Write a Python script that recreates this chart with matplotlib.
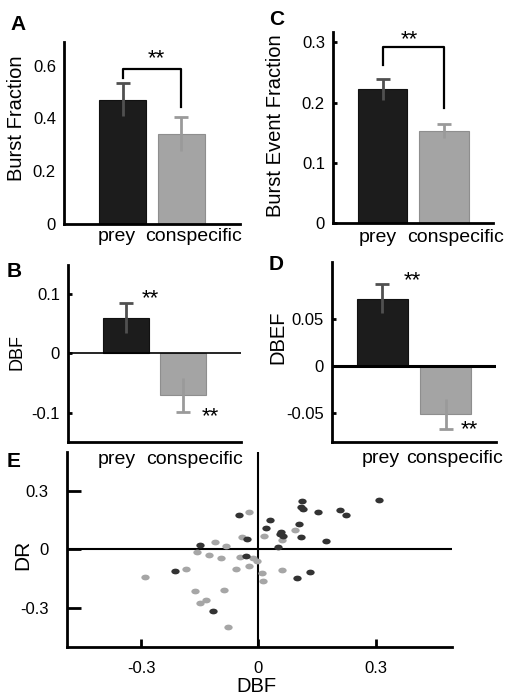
import numpy as np
import matplotlib
matplotlib.use('Agg')
import matplotlib.pyplot as plt
from matplotlib.path import Path
from matplotlib.transforms import Affine2D

plt.rcParams['font.family'] = ['Liberation Sans', 'DejaVu Sans']

# data
cats = ['prey', 'conspecific']
burst_frac = [0.47, 0.34]
burst_frac_err = [0.063, 0.065]
burst_event = [0.222, 0.153]
burst_event_err = [0.017, 0.011]
dbf = [0.060, -0.070]
dbf_err = [0.025, 0.028]
dbef = [0.071, -0.051]
dbef_err = [0.015, 0.016]

prey_dbf = [0.308, 0.111, 0.108, 0.114, 0.152, 0.208, 0.224, -0.049, 0.030, 0.019,
            0.103, 0.058, 0.054, 0.064, 0.109, 0.172, -0.030, -0.150, 0.050, -0.031,
            -0.212, 0.133, 0.099, -0.115]
prey_dr = [0.254, 0.247, 0.215, 0.205, 0.190, 0.200, 0.178, 0.175, 0.149, 0.112,
           0.131, 0.090, 0.080, 0.069, 0.063, 0.042, 0.053, 0.022, 0.014, -0.034,
           -0.110, -0.117, -0.146, -0.315]
consp_dbf = [-0.025, -0.042, -0.110, -0.082, 0.015, 0.093, 0.059, -0.156, -0.127, -0.095,
             -0.048, -0.013, -0.003, -0.023, -0.057, -0.185, 0.059, 0.010, 0.012, -0.290,
             -0.161, -0.089, -0.135, -0.150, -0.079]
consp_dr = [0.190, 0.066, 0.036, 0.019, 0.071, 0.098, 0.047, -0.014, -0.029, -0.041,
            -0.037, -0.042, -0.059, -0.083, -0.100, -0.100, -0.103, -0.119, -0.159, -0.142,
            -0.210, -0.208, -0.256, -0.273, -0.395]

bar_cols = ['#1c1c1c', '#a4a4a4']
edge_cols = ['#111111', '#8e8e8e']
err_cols = ['#505050', '#9a9a9a']
dark_dot = '#333333'
light_dot = '#a6a6a6'

fig = plt.figure(figsize=(5.12, 6.99), dpi=100)


def bar_panel(ax, vals, errs, xlim, ylim, ticklen=3):
    x = np.arange(1, len(vals) + 1)
    ax.bar(x, vals, width=0.8, color=bar_cols, edgecolor=edge_cols, lw=0.8, zorder=2)
    for xi, v, e, c in zip(x, vals, errs, err_cols):
        s = np.sign(v)
        ax.vlines(xi, v - e, v + e, color=c, lw=2, zorder=3)
        ax.plot([xi], [v + s * e], marker='_', ms=10, mew=2, color=c, zorder=3)
    ax.set_xlim(*xlim)
    ax.set_ylim(*ylim)
    ax.patch.set_alpha(0)
    for side in ['top', 'right']:
        ax.spines[side].set_visible(False)
    for side in ['left', 'bottom']:
        ax.spines[side].set_linewidth(2)
    ax.tick_params(axis='y', direction='in', length=ticklen, width=2, labelsize=12, pad=6)
    ax.tick_params(axis='x', length=0, labelsize=14)
    return x


# A
axA = fig.add_axes([0.1256, 0.6795, 0.343, 0.2608])
bar_panel(axA, burst_frac, burst_frac_err, (0, 3), (0, 0.69), ticklen=0)
axA.set_yticks([0, 0.2, 0.4, 0.6])
axA.set_yticklabels(['0', '0.2', '0.4', '0.6'])
axA.set_xticks([0.9, 2.21])
axA.set_xticklabels(cats)
axA.tick_params(axis='x', pad=3)
axA.plot([1, 1, 2, 2], [0.551, 0.585, 0.585, 0.442], color='k', lw=1.6, clip_on=False)
axA.text(1.58, 0.625, '**', ha='center', va='center', fontsize=16)
axA.set_ylabel('Burst Fraction', fontsize=14.5)
axA.yaxis.set_label_coords(-0.22, 0.58)

# C
axC = fig.add_axes([0.651, 0.681, 0.3125, 0.2737])
bar_panel(axC, burst_event, burst_event_err, (0.2, 2.8), (0, 0.318))
axC.set_yticks([0, 0.1, 0.2, 0.3])
axC.set_yticklabels(['0', '0.1', '0.2', '0.3'])
axC.set_xticks([0.92, 2.18])
axC.set_xticklabels(cats)
axC.tick_params(axis='x', pad=4)
axC.plot([1, 1, 2, 2], [0.263, 0.293, 0.293, 0.191], color='k', lw=1.6, clip_on=False)
axC.text(1.43, 0.305, '**', ha='center', va='center', fontsize=16, clip_on=False)
axC.set_ylabel('Burst Event Fraction', fontsize=14.5)
axC.yaxis.set_label_coords(-0.30, 0.51)

# B
axB = fig.add_axes([0.1334, 0.3672, 0.3367, 0.2536])
bar_panel(axB, dbf, dbf_err, (0, 3), (-0.149, 0.148))
axB.axhline(0, color='k', lw=1.2, zorder=4)
axB.set_yticks([-0.1, 0, 0.1])
axB.set_yticklabels(['-0.1', '0', '0.1'])
axB.set_xticks([0.85, 2.19])
axB.set_xticklabels(cats)
axB.tick_params(axis='x', pad=6)
axB.text(1.42, dbf[0] + dbf_err[0] + 0.007, '**', ha='center', va='center', fontsize=16)
axB.text(2.48, dbf[1] - dbf_err[1] - 0.008, '**', ha='center', va='center', fontsize=16)
axB.set_ylabel('DBF', fontsize=13)
axB.yaxis.set_label_coords(-0.25, 0.51)

# D
axD = fig.add_axes([0.6484, 0.3681, 0.3203, 0.2575])
bar_panel(axD, dbef, dbef_err, (0.2, 2.8), (-0.08, 0.11))
axD.axhline(0, color='k', lw=2.2, zorder=4)
axD.set_yticks([-0.05, 0, 0.05])
axD.set_yticklabels(['-0.05', '0', '0.05'])
axD.set_xticks([0.977, 2.15])
axD.set_xticklabels(cats)
axD.tick_params(axis='x', pad=6)
axD.text(1.47, dbef[0] + dbef_err[0] + 0.004, '**', ha='center', va='center', fontsize=16)
axD.text(2.38, dbef[1] - dbef_err[1] + 0.0, '**', ha='center', va='center', fontsize=16)
axD.set_ylabel('DBEF', fontsize=14.5)
axD.yaxis.set_label_coords(-0.27, 0.58)

# E
axE = fig.add_axes([0.1303, 0.074, 0.752, 0.2798])
axE.patch.set_alpha(0)
ell = Path.unit_circle().transformed(Affine2D().scale(1.45, 1.0))
axE.plot(consp_dbf, consp_dr, ls='none', marker=ell, ms=6, color=light_dot, mew=0, zorder=3)
axE.plot(prey_dbf, prey_dr, ls='none', marker=ell, ms=6, color=dark_dot, mew=0, zorder=3)
axE.axhline(0, color='k', lw=1.5, zorder=2)
axE.axvline(0, color='k', lw=1.5, zorder=2)
axE.set_xlim(-0.49, 0.494)
axE.set_ylim(-0.5, 0.5)
for side in ['top', 'right']:
    axE.spines[side].set_visible(False)
for side in ['left', 'bottom']:
    axE.spines[side].set_linewidth(2)
axE.set_xticks([-0.3, 0, 0.3])
axE.set_xticklabels(['-0.3', '0', '0.3'])
axE.set_yticks([-0.3, 0, 0.3])
axE.set_yticklabels(['-0.3', '0', '0.3'])
axE.tick_params(axis='y', direction='in', length=10, width=2, labelsize=12, pad=13)
axE.tick_params(axis='x', direction='in', length=6, width=2, labelsize=12, pad=10)
axE.set_xlabel('DBF', fontsize=14.5)
axE.xaxis.set_label_coords(0.494, -0.15)
axE.set_ylabel('DR', fontsize=15)
axE.yaxis.set_label_coords(-0.09, 0.47)

# panel letters
for lab, px, py in [('A', 10, 15), ('C', 269, 10), ('B', 7, 262), ('D', 269, 255), ('E', 7, 452)]:
    fig.text(px / 512, 1 - py / 699, lab, fontsize=15, fontweight='bold', va='top', ha='left')

fig.savefig('out.png', dpi=100)
